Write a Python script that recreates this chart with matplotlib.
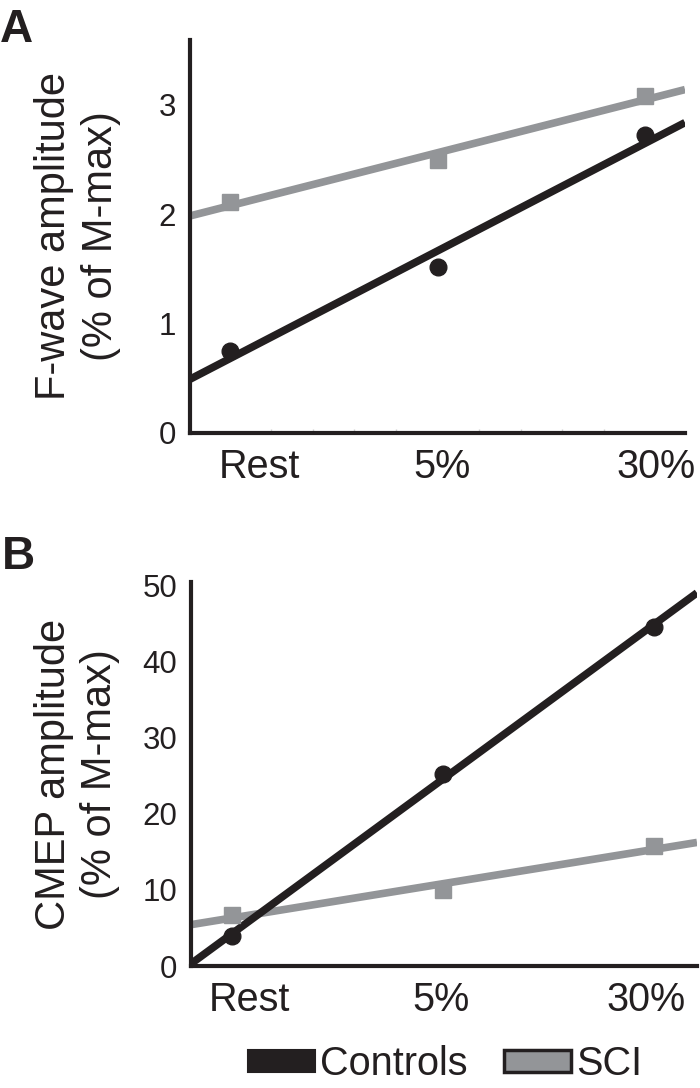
import numpy as np
import matplotlib
matplotlib.use('Agg')
import matplotlib.pyplot as plt
import matplotlib.transforms as mtransforms
from matplotlib.patches import Patch

plt.rcParams['font.family'] = ['Liberation Sans', 'DejaVu Sans']

conditions = ['Rest', '5%', '30%']
fwave_controls = [0.75, 1.52, 2.72]
fwave_sci = [2.11, 2.49, 3.08]
cmep_controls = [3.9, 25.2, 44.5]
cmep_sci = [6.7, 10.0, 15.7]

ink = '#231f20'
grey = '#939598'


def panel(ax, controls, sci, ylim, yticks, ylabel, xlim, label_shift):
    x = np.arange(len(conditions))
    ax.set_xlim(*xlim)
    ax.set_ylim(*ylim)
    xs = np.array(xlim)
    # regression lines across the whole axis
    for vals, col in [(sci, grey), (controls, ink)]:
        fit = np.polyfit(x, vals, 1)
        ax.plot(xs, np.polyval(fit, xs), color=col, lw=5.5, solid_capstyle='butt', zorder=2)
    ax.plot(x, sci, 's', color=grey, ms=12, zorder=3)
    ax.plot(x, controls, 'o', color=ink, ms=12, zorder=4)

    for s in ['top', 'right']:
        ax.spines[s].set_visible(False)
    for s in ['left', 'bottom']:
        ax.spines[s].set_linewidth(3)
        ax.spines[s].set_color(ink)
        ax.spines[s].set_capstyle('projecting')

    ax.set_yticks(yticks)
    ax.set_yticklabels([str(t) for t in yticks], fontsize=22.5, color=ink)
    ax.tick_params(axis='y', length=0, pad=10)
    ax.set_xticks(x)
    ax.set_xticklabels(conditions, fontsize=28.5, color=ink)
    ax.tick_params(axis='x', length=0, pad=11)
    for lab, dx in zip(ax.get_xticklabels(), label_shift):
        lab.set_transform(lab.get_transform() +
                          mtransforms.ScaledTranslation(dx / 100, 0, ax.figure.dpi_scale_trans))
    ax.set_ylabel(ylabel, fontsize=30, color=ink, linespacing=1.2)
    ax.yaxis.set_label_coords(-0.14, 0.5)


fig = plt.figure(figsize=(7, 10.88), dpi=100)
ax1 = fig.add_axes([190 / 700, 1 - 433 / 1088, 495 / 700, 393 / 1088])
ax2 = fig.add_axes([191 / 700, 1 - 966 / 1088, 506 / 700, 384 / 1088])

panel(ax1, fwave_controls, fwave_sci, (0, 3.59), [0, 1, 2, 3],
      'F-wave amplitude\n(% of M-max)', (-0.19, 2.19), [30, 4, 11])
ax1.set_xticks(np.arange(0, 2.01, 0.2), minor=True)
ax1.tick_params(axis='x', which='minor', length=3, width=1, color='#d0d0d0', direction='in')

panel(ax2, cmep_controls, cmep_sci, (0, 50.4), [0, 10, 20, 30, 40, 50],
      'CMEP amplitude\n(% of M-max)', (-0.194, 2.204), [18, -2, -8])

fig.text(0.0, 1 - 8 / 1088, 'A', fontsize=33, weight='bold', va='top', ha='left', color=ink)
fig.text(0.003, 1 - 535 / 1088, 'B', fontsize=33, weight='bold', va='top', ha='left', color=ink)

handles = [Patch(facecolor=ink, edgecolor=ink, lw=1.5),
           Patch(facecolor=grey, edgecolor=ink, lw=2.5)]
fig.legend(handles, ['Controls', 'SCI'], loc='center', ncol=2, frameon=False,
           bbox_to_anchor=(445 / 700, 1 - 1064 / 1088), fontsize=28.5,
           handlelength=1.7, handleheight=0.46, handletextpad=0.13,
           columnspacing=0.9, borderpad=0, labelcolor=ink)

fig.savefig('out.png', dpi=100)
